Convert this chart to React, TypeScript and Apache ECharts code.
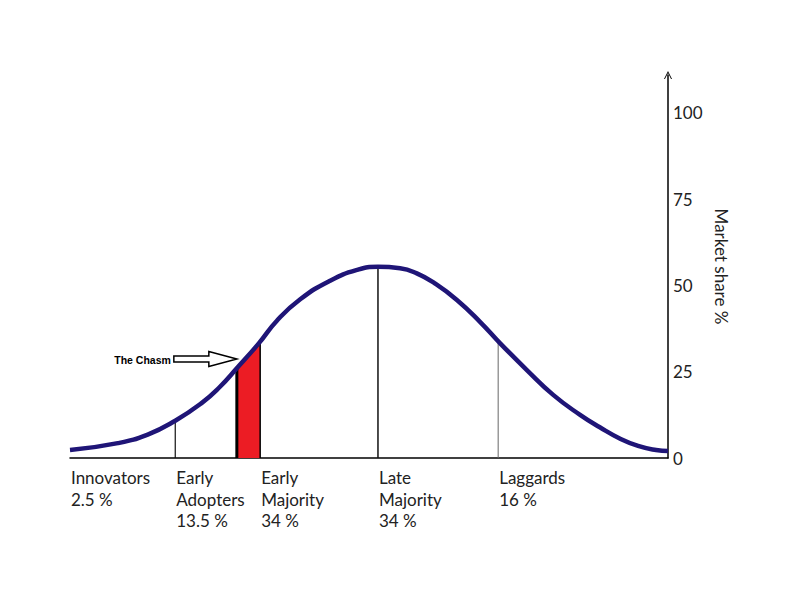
import React, { useEffect, useRef } from "react";
import * as echarts from "echarts";

// Curve of adoption (x: position 0..100 along the axis, y: market share %)
const curveX = [0, 8, 13, 17.6, 22, 25, 28, 31.6, 34.6, 38.5, 43.5, 48.0, 51.5, 55.2, 58, 61, 64.7, 68.6, 71.9, 76.4, 80.8, 85.3, 88.6, 92, 95, 98, 100];
const curveY = [2.3, 4.3, 6.8, 10.8, 15.9, 20.5, 26.2, 33.3, 39.8, 46.0, 51.4, 54.5, 55.4, 55.0, 53.5, 50.6, 45.8, 39.4, 33.3, 25.5, 18.3, 12.5, 8.9, 5.6, 3.5, 2.3, 2.0];

// Segment boundaries (vertical lines) and their heights on the curve
const boundaryX = [17.6, 27.9, 31.8, 51.5, 71.6];
const boundaryTop = [10.8, 26.0, 33.7, 55.4, 33.8];

// The chasm band
const chasmX = [27.9, 31.8];
const chasmTop = [26.0, 33.7];
const chasmLabel = "The Chasm";
const chasmArrowTip = [27.9, 28.7];

// Segments
const segmentNames = ["Innovators", "Early\nAdopters", "Early\nMajority", "Late\nMajority", "Laggards"];
const segmentShares = [2.5, 13.5, 34, 34, 16];
const segmentStart = [0, 17.6, 31.8, 51.5, 71.6];

// Axis
const yTicks = [0, 25, 50, 75, 100];
const yTitle = "Market share %";

const FONT = "Lato, 'Open Sans', sans-serif";
const boundaryWidths = [1.2, 3, 1.5, 1.5, 1];
const boundaryColors = ["#111", "#000", "#000", "#111", "#666"];

export default function App() {
  const ref = useRef<HTMLDivElement>(null);
  useEffect(() => {
    const chart = echarts.init(ref.current!, null, { renderer: "svg" });
    chart.setOption({
      animation: false,
      backgroundColor: "#ffffff",
      grid: { left: 70, right: 132, top: 75, bottom: 142 },
      xAxis: {
        type: "value",
        min: 0,
        max: 100,
        axisLine: { show: true, onZero: true, lineStyle: { color: "#000", width: 1.5 } },
        axisTick: { show: false },
        axisLabel: { show: false },
        splitLine: { show: false },
      },
      yAxis: {
        type: "value",
        position: "right",
        min: 0,
        max: 111,
        interval: 25,
        name: yTitle,
        nameLocation: "middle",
        nameRotate: -90,
        nameGap: 41,
        nameTextStyle: { color: "#222", fontSize: 17, fontFamily: FONT },
        axisLine: {
          show: true,
          onZero: false,
          lineStyle: { color: "#000", width: 1.5 },
          symbol: ["none", "path://M0,10 L5,0 L10,10 L8.8,10 L5,2.6 L1.2,10 Z"],
          symbolSize: [8, 10],
        },
        axisTick: { show: false },
        splitLine: { show: false },
        axisLabel: {
          margin: 5,
          color: "#222",
          fontSize: 17,
          fontFamily: FONT,
          formatter: (v: number) => (yTicks.includes(v) ? String(v) : ""),
        },
      },
      series: [
        {
          type: "custom",
          z: 1,
          clip: false,
          data: [[chasmX[0], chasmTop[0], chasmX[1], chasmTop[1]]],
          encode: { x: [0, 2], y: [1, 3] },
          renderItem: (_p: any, api: any) => {
            const x0 = api.value(0), y0 = api.value(1), x1 = api.value(2), y1 = api.value(3);
            const pts = [api.coord([x0, 0]), api.coord([x0, y0]), api.coord([x1, y1]), api.coord([x1, 0])];
            return { type: "polygon", shape: { points: pts }, style: { fill: "#ec1c24" } };
          },
        },
        {
          type: "custom",
          z: 2,
          clip: false,
          data: boundaryX.map((x, i) => [x, boundaryTop[i]]),
          renderItem: (params: any, api: any) => {
            const x = api.value(0), top = api.value(1);
            const a = api.coord([x, 0]);
            const b = api.coord([x, top]);
            const i = params.dataIndex;
            return {
              type: "line",
              shape: { x1: a[0], y1: a[1], x2: b[0], y2: b[1] },
              style: { stroke: boundaryColors[i], lineWidth: boundaryWidths[i] },
            };
          },
        },
        {
          type: "line",
          z: 3,
          data: curveX.map((x, i) => [x, curveY[i]]),
          smooth: 0.5,
          showSymbol: false,
          lineStyle: { color: "#1f1577", width: 4.5 },
        },
        {
          type: "custom",
          z: 4,
          clip: false,
          data: segmentStart.map((x, i) => [x, 0, i]),
          renderItem: (_p: any, api: any) => {
            const i = api.value(2);
            const p = api.coord([api.value(0), 0]);
            return {
              type: "text",
              style: {
                text: segmentNames[i] + "\n" + segmentShares[i] + " %",
                x: p[0] + 1,
                y: p[1] + 9,
                fill: "#222",
                fontSize: 17,
                fontFamily: FONT,
                lineHeight: 21.5,
                align: "left",
                verticalAlign: "top",
              },
            };
          },
        },
        {
          type: "custom",
          z: 5,
          clip: false,
          data: [chasmArrowTip],
          renderItem: (_p: any, api: any) => {
            const p = api.coord([api.value(0), api.value(1)]);
            const rel = [[0, 0], [-28, -7.5], [-28, -3], [-63, -3], [-63, 3], [-28, 3], [-28, 7.5]];
            return {
              type: "group",
              children: [
                {
                  type: "polygon",
                  shape: { points: rel.map(([dx, dy]) => [p[0] + dx, p[1] + dy]) },
                  style: { fill: "#fff", stroke: "#000", lineWidth: 1.5 },
                },
                {
                  type: "text",
                  style: {
                    text: chasmLabel,
                    x: p[0] - 66,
                    y: p[1] + 1,
                    align: "right",
                    verticalAlign: "middle",
                    fill: "#000",
                    fontSize: 10.5,
                    fontWeight: "bold",
                    fontFamily: "'Liberation Sans', Arial, sans-serif",
                  },
                },
              ],
            };
          },
        },
      ],
    });
    return () => chart.dispose();
  }, []);
  return <div ref={ref} style={{ position: "absolute", left: 0, top: 0, width: 800, height: 600 }} />;
}
